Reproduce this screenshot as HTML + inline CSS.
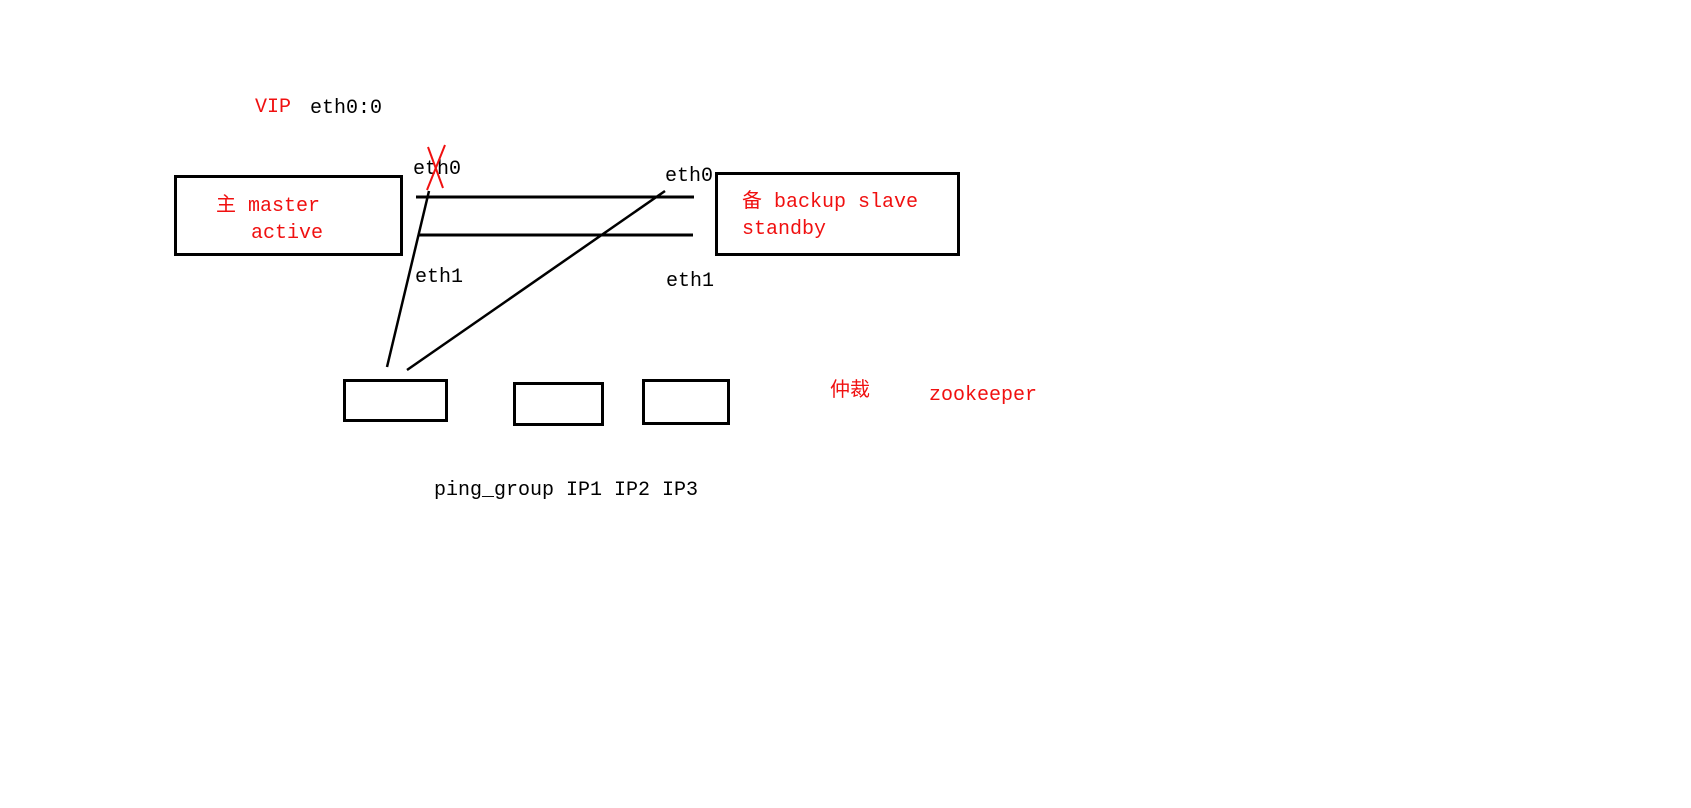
<!DOCTYPE html>
<html><head><meta charset="utf-8"><style>
body{margin:0;width:1691px;height:808px;background:#fff;overflow:hidden;position:relative;font-family:"Liberation Mono","Noto Sans CJK SC",monospace;font-size:20px}
.t{position:absolute;line-height:1;white-space:pre}
.r{color:#f01010}
.b{position:absolute;border:3px solid #000;box-sizing:border-box}
</style></head><body>
<div class="b" style="left:174px;top:175px;width:229px;height:81px"></div>
<div class="b" style="left:715px;top:172px;width:245px;height:84px"></div>
<div class="b" style="left:343px;top:379px;width:105px;height:43px"></div>
<div class="b" style="left:513px;top:382px;width:91px;height:44px"></div>
<div class="b" style="left:642px;top:379px;width:88px;height:46px"></div>
<svg width="1691" height="808" style="position:absolute;left:0;top:0">
<line x1="416" y1="197" x2="694" y2="197" stroke="#000" stroke-width="3"/>
<line x1="419" y1="235" x2="693" y2="235" stroke="#000" stroke-width="3"/>
<line x1="429" y1="191" x2="387" y2="367" stroke="#000" stroke-width="2.5"/>
<line x1="665" y1="191" x2="407" y2="370" stroke="#000" stroke-width="2.5"/>
</svg>
<div class="t r" style="left:255px;top:98px">VIP</div>
<div class="t" style="left:310px;top:99px">eth0:0</div>
<div class="t" style="left:413px;top:160px">eth0</div>
<div class="t" style="left:665px;top:167px">eth0</div>
<div class="t" style="left:415px;top:268px">eth1</div>
<div class="t" style="left:666px;top:272px">eth1</div>
<div class="t r" style="left:216px;top:197px">主 master</div>
<div class="t r" style="left:251px;top:224px">active</div>
<div class="t r" style="left:742px;top:193px">备 backup slave</div>
<div class="t r" style="left:742px;top:220px">standby</div>
<div class="t r" style="left:830px;top:382px">仲裁</div>
<div class="t r" style="left:929px;top:386px">zookeeper</div>
<div class="t" style="left:434px;top:481px">ping_group IP1 IP2 IP3</div>
<svg width="1691" height="808" style="position:absolute;left:0;top:0">
<line x1="428" y1="147" x2="443" y2="188" stroke="#f01010" stroke-width="2"/>
<line x1="445" y1="145" x2="427" y2="190" stroke="#f01010" stroke-width="2"/>
</svg>
</body></html>
